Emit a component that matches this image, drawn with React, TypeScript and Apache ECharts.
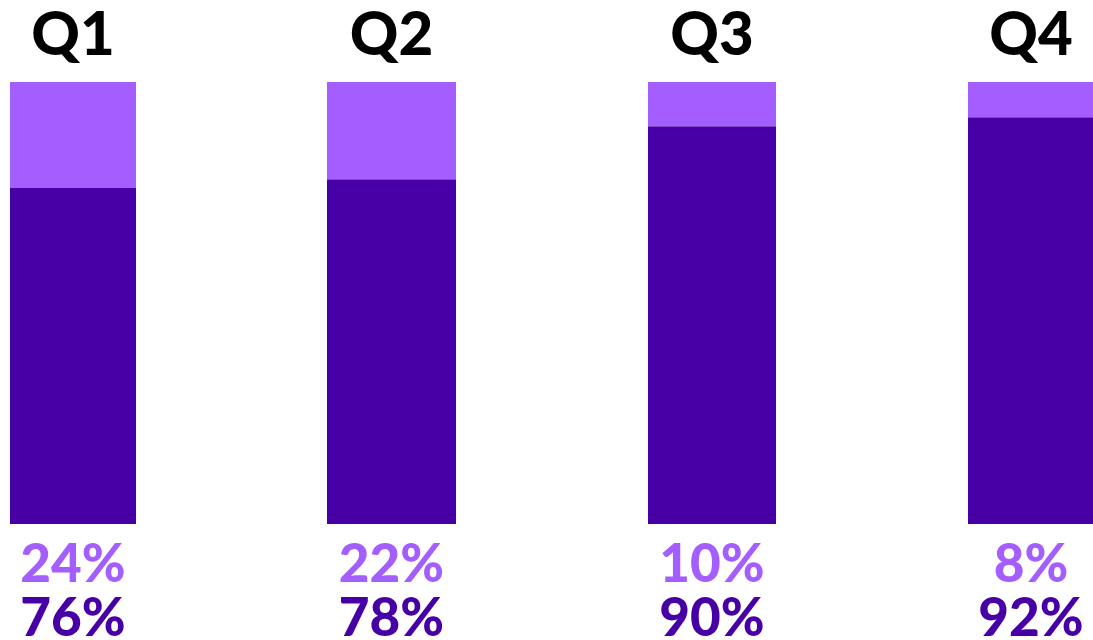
import React, { useEffect, useRef } from "react";
import * as echarts from "echarts";

const categories = ["Q1", "Q2", "Q3", "Q4"];
const lightValues = [24, 22, 10, 8];
const darkValues = [76, 78, 90, 92];

const LIGHT = "#A45DFF";
const DARK = "#4600A5";
const barLefts = [10, 327, 648, 968];
const barWidths = [126, 129, 128, 126];

export default function App() {
  const ref = useRef<HTMLDivElement>(null);
  useEffect(() => {
    if (!ref.current) return;
    const chart = echarts.init(ref.current, null, { renderer: "svg" });
    const grids: any[] = [];
    const xAxes: any[] = [];
    const yAxes: any[] = [];
    const series: any[] = [];
    const hidden = { axisLine: { show: false }, axisTick: { show: false } };
    categories.forEach((c, i) => {
      grids.push({
        left: barLefts[i],
        width: barWidths[i],
        top: 82,
        bottom: 116,
        containLabel: false,
        outerBoundsMode: "none",
      });
      xAxes.push({
        type: "category",
        gridIndex: i,
        position: "top",
        data: [c],
        ...hidden,
        axisLabel: {
          margin: 50,
          verticalAlign: "middle",
          color: "#000",
          fontFamily: "Lato",
          fontWeight: 900,
          fontSize: 60,
          lineHeight: 50,
        },
      });
      xAxes.push({
        type: "category",
        gridIndex: i,
        position: "bottom",
        data: [lightValues[i] + "%"],
        ...hidden,
        axisLabel: {
          margin: 37,
          verticalAlign: "middle",
          color: LIGHT,
          fontFamily: "Lato",
          fontWeight: 900,
          fontSize: 53,
          lineHeight: 36,
        },
      });
      xAxes.push({
        type: "category",
        gridIndex: i,
        position: "bottom",
        data: [darkValues[i] + "%"],
        ...hidden,
        axisLabel: {
          margin: 91,
          verticalAlign: "middle",
          color: DARK,
          fontFamily: "Lato",
          fontWeight: 900,
          fontSize: 53,
          lineHeight: 36,
        },
      });
      yAxes.push({ type: "value", gridIndex: i, min: 0, max: 100, show: false });
      series.push({
        type: "bar",
        xAxisIndex: i * 3,
        yAxisIndex: i,
        stack: "s" + i,
        barWidth: "100%",
        data: [darkValues[i]],
        itemStyle: { color: DARK },
      });
      series.push({
        type: "bar",
        xAxisIndex: i * 3,
        yAxisIndex: i,
        stack: "s" + i,
        barWidth: "100%",
        data: [lightValues[i]],
        itemStyle: { color: LIGHT },
      });
    });
    chart.setOption({
      animation: false,
      backgroundColor: "#fff",
      grid: grids,
      xAxis: xAxes,
      yAxis: yAxes,
      series,
    });
    return () => chart.dispose();
  }, []);
  return (
    <div
      ref={ref}
      style={{ position: "fixed", left: 0, top: 0, width: 1093, height: 640 }}
    />
  );
}
